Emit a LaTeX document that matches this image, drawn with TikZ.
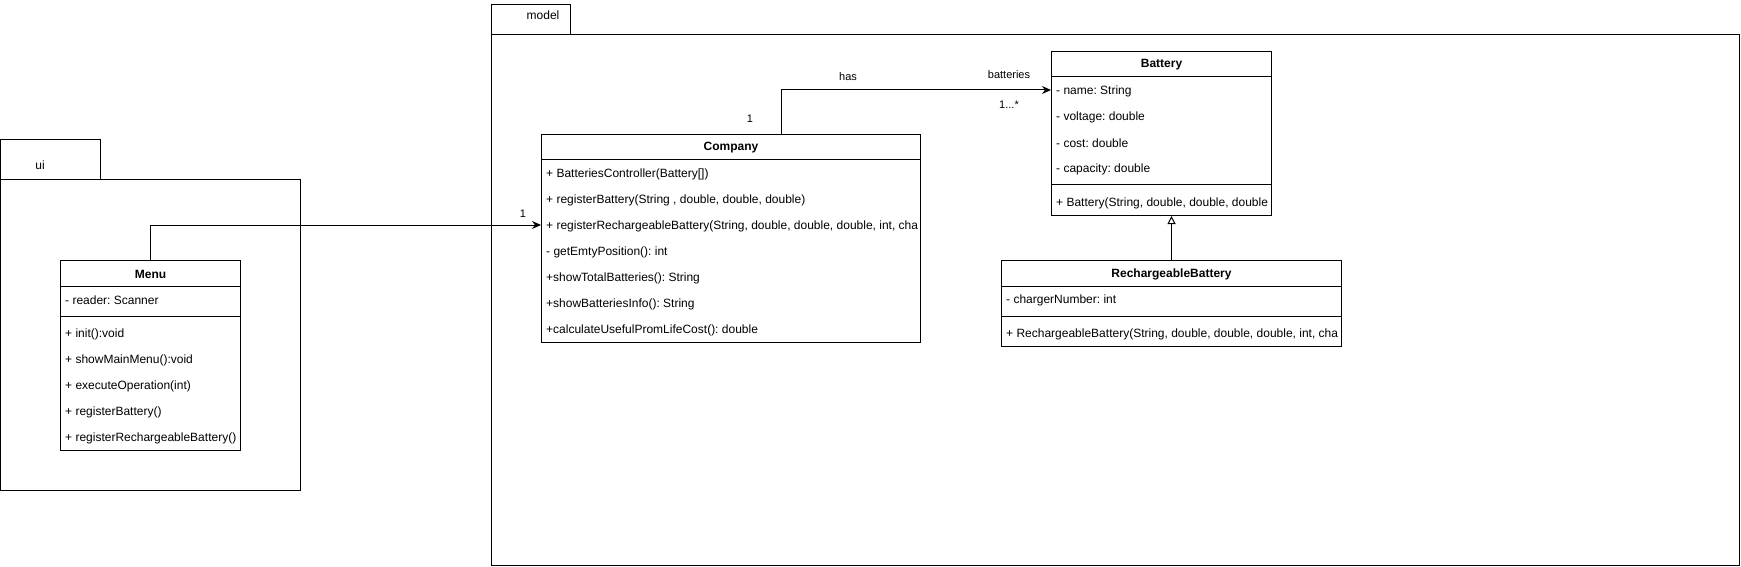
\documentclass[tikz,border=0pt]{standalone}
\usepackage{fontspec}
\setmainfont{Liberation Sans}
\frenchspacing
\usetikzlibrary{arrows.meta,positioning,calc}
\tikzset{
  umlbox/.style={draw,line width=1pt,anchor=north west,inner sep=0pt},
  umlname/.style={font=\bfseries\fontsize{12}{14}\selectfont,inner sep=0pt},
  umlrow/.style={font=\fontsize{12}{14}\selectfont,anchor=west,inner sep=0pt},
  lbl/.style={font=\fontsize{11}{13}\selectfont,inner sep=0pt},
  pkg/.style={draw,line width=1pt},
  assoc/.style={line width=1pt,-{Stealth[length=9pt,width=8pt]}},
  extends/.style={line width=1pt,-{Triangle[open,length=8pt,width=8pt,fill=white]}},
}
\begin{document}
\begin{tikzpicture}[x=1pt,y=-1pt]
\useasboundingbox (0,0) rectangle (1741,567);
% packages
\draw[pkg] (0.5,140) rectangle (100,180);
\draw[pkg] (0.5,180) rectangle (300,490);
\node[lbl,font=\fontsize{12}{14}\selectfont] (uiname) at (40,165) {ui};
\draw[pkg] (491,5) rectangle (570,35);
\draw[pkg] (491,35) rectangle (1739,565);
\node[lbl,font=\fontsize{12}{14}\selectfont] (modelname) at (543,15) {model};

% Menu
\node[umlbox,minimum width=180,minimum height=190] (menu) at (60,260) {};
\node[umlname] (menu-n) at ([yshift=-14pt]menu.north) {Menu};
\draw[line width=1pt] ([yshift=-26pt]menu.north west) -- ([yshift=-26pt]menu.north east);
\node[umlrow] (menu-a1) at ([xshift=5pt,yshift=-40.5pt]menu.north west) {- reader: Scanner};
\draw[line width=1pt] ([yshift=-56pt]menu.north west) -- ([yshift=-56pt]menu.north east);
\foreach \t [count=\i] in {{+ init():void},{+ showMainMenu():void},{+ executeOperation(int)},
  {+ registerBattery()},{+ registerRechargeableBattery()}}
  \node[umlrow] (menu-m\i) at ([xshift=5pt,yshift={-48.5pt-26pt*\i}]menu.north west) {\t};

% Company
\node[umlbox,minimum width=379,minimum height=208] (company) at (541,134) {};
\node[umlname] (company-n) at ([yshift=-14pt]company.north) {Company};
\draw[line width=1pt] ([yshift=-26pt]company.north west) -- ([yshift=-26pt]company.north east);
\begin{scope}
\clip (company.north west) rectangle (company.south east);
\foreach \t [count=\i] in {{+ BatteriesController(Battery[])},{+ registerBattery(String , double, double, double)},
  {+ registerRechargeableBattery(String, double, double, double, int, cha},{- getEmtyPosition(): int},
  {+showTotalBatteries(): String},{+showBatteriesInfo(): String},{+calculateUsefulPromLifeCost(): double}}
  \node[umlrow] (company-m\i) at ([xshift=5pt,yshift={-14.5pt-26pt*\i}]company.north west) {\t};
\end{scope}

% Battery
\node[umlbox,minimum width=220,minimum height=164] (battery) at (1051,51) {};
\node[umlname] (battery-n) at ([yshift=-14pt]battery.north) {Battery};
\draw[line width=1pt] ([yshift=-26pt]battery.north west) -- ([yshift=-26pt]battery.north east);
\foreach \t [count=\i] in {{- name: String},{- voltage: double},{- cost: double},{- capacity: double}}
  \node[umlrow] (battery-a\i) at ([xshift=5pt,yshift={-14.5pt-26pt*\i}]battery.north west) {\t};
\draw[line width=1pt] ([yshift=-134pt]battery.north west) -- ([yshift=-134pt]battery.north east);
\begin{scope}
\clip (battery.north west) rectangle (battery.south east);
\node[umlrow] (battery-m1) at ([xshift=5pt,yshift=-152.5pt]battery.north west) {+ Battery(String, double, double, double};
\end{scope}

% RechargeableBattery
\node[umlbox,minimum width=340,minimum height=86] (rbattery) at (1001,260) {};
\node[umlname] (rbattery-n) at ([yshift=-14pt]rbattery.north) {RechargeableBattery};
\draw[line width=1pt] ([yshift=-26pt]rbattery.north west) -- ([yshift=-26pt]rbattery.north east);
\node[umlrow] (rbattery-a1) at ([xshift=5pt,yshift=-40.5pt]rbattery.north west) {- chargerNumber: int};
\draw[line width=1pt] ([yshift=-56pt]rbattery.north west) -- ([yshift=-56pt]rbattery.north east);
\begin{scope}
\clip (rbattery.north west) rectangle (rbattery.south east);
\node[umlrow] (rbattery-m1) at ([xshift=5pt,yshift=-74.5pt]rbattery.north west) {+ RechargeableBattery(String, double, double, double, int, cha};
\end{scope}

% connectors
\draw[assoc] (menu.north) |- ([yshift=1.5pt]company-m3.west -| company.west);
\node[lbl] (one-a) at (523,214) {1};
\draw[assoc] ([xshift=50pt]company.north) |- ([yshift=1.5pt]battery-a1.west -| battery.west);
\node[lbl] (one-b) at (750,119) {1};
\node[lbl] (has) at (848,77) {has};
\node[lbl] (batteries) at (1009,75) {batteries};
\node[lbl] (many) at (1009,105) {1...*};
\draw[extends] (rbattery.north) -- (rbattery.north |- battery.south);
\end{tikzpicture}
\end{document}
